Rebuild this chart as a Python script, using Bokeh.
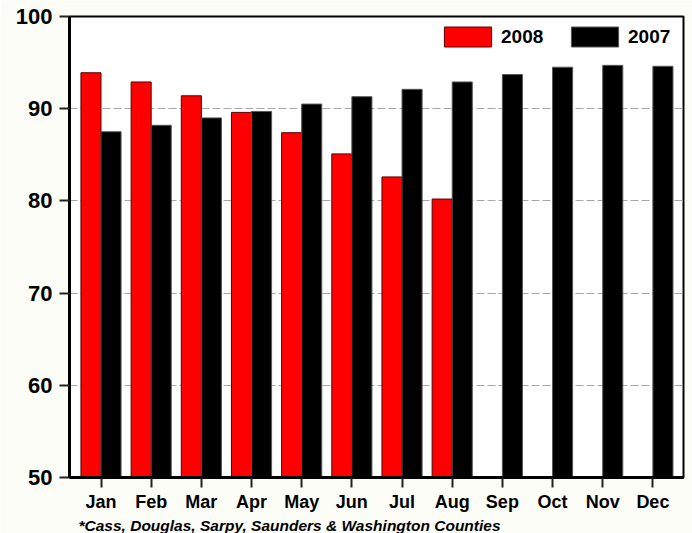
from bokeh.plotting import figure
from bokeh.models import (ColumnDataSource, Range1d, FixedTicker, Legend, LegendItem, Title)
from bokeh.transform import dodge
from bokeh.embed import file_html
from bokeh.resources import INLINE

months = ["Jan", "Feb", "Mar", "Apr", "May", "Jun", "Jul", "Aug", "Sep", "Oct", "Nov", "Dec"]
v2008 = [93.9, 92.9, 91.4, 89.6, 87.4, 85.1, 82.6, 80.2]
v2007 = [87.5, 88.2, 89.0, 89.7, 90.5, 91.3, 92.1, 92.9, 93.7, 94.5, 94.7, 94.6]
y_ticks = [50, 60, 70, 80, 90, 100]
footnote = "*Cass, Douglas, Sarpy, Saunders & Washington Counties"

FONT = "Liberation Sans"

src08 = ColumnDataSource(dict(x=list(range(len(v2008))), top=v2008))
src07 = ColumnDataSource(dict(x=list(range(len(v2007))), top=v2007))

p = figure(width=692, height=533, output_backend="svg", toolbar_location=None,
           x_range=Range1d(-0.628, 11.61), y_range=Range1d(50, 100),
           min_border_left=69, min_border_right=9, min_border_top=16, min_border_bottom=56)

p.background_fill_color = "white"
p.border_fill_color = "#FDFDF8"
p.outline_line_color = "black"
p.outline_line_width = 2

# grid
p.xgrid.grid_line_color = None
p.ygrid.ticker = FixedTicker(ticks=y_ticks)
p.ygrid.grid_line_color = "#A8A8A8"
p.ygrid.grid_line_dash = "8 3"
p.ygrid.grid_line_width = 1

r08 = p.vbar(x=dodge("x", -0.2), top="top", bottom=50, width=0.4, source=src08,
             fill_color="#FF0000", line_color="#5A0000", line_width=1)
r07 = p.vbar(x=dodge("x", 0.2), top="top", bottom=50, width=0.4, source=src07,
             fill_color="#000000", line_color="#555555", line_width=1)

# axes
p.xaxis.ticker = FixedTicker(ticks=list(range(len(months))))
p.xaxis.major_label_overrides = {i: m for i, m in enumerate(months)}
p.xaxis.major_tick_in = 0
p.xaxis.major_tick_out = 10
p.xaxis.minor_tick_line_color = None
p.xaxis.major_tick_line_color = "#222222"
p.xaxis.major_tick_line_width = 2
p.xaxis.axis_line_width = 3
p.xaxis.axis_line_color = "black"
p.xaxis.major_label_text_font = FONT
p.xaxis.major_label_text_font_style = "bold"
p.xaxis.major_label_text_font_size = "18px"
p.xaxis.major_label_text_color = "black"
p.xaxis.major_label_standoff = 4

p.yaxis.ticker = FixedTicker(ticks=y_ticks)
p.yaxis.major_tick_in = 0
p.yaxis.major_tick_out = 10
p.yaxis.minor_tick_line_color = None
p.yaxis.major_tick_line_color = "#222222"
p.yaxis.major_tick_line_width = 2
p.yaxis.axis_line_width = 3
p.yaxis.axis_line_color = "black"
p.yaxis.major_label_text_font = FONT
p.yaxis.major_label_text_font_style = "bold"
p.yaxis.major_label_text_font_size = "22px"
p.yaxis.major_label_text_color = "black"
p.yaxis.major_label_standoff = 7

legend = Legend(items=[LegendItem(label="2008", renderers=[r08]),
                       LegendItem(label="2007", renderers=[r07])],
                orientation="horizontal", location="top_right",
                glyph_width=59, glyph_height=25, label_standoff=4, spacing=17,
                label_width=47, padding=8, margin=0,
                label_text_font=FONT, label_text_font_style="bold",
                label_text_font_size="19px", label_text_color="black",
                border_line_alpha=0, background_fill_alpha=0)
p.add_layout(legend)

note = Title(text=footnote, align="left", offset=9, standoff=0,
             text_font=FONT, text_font_style="bold italic", text_font_size="15.5px",
             text_color="black")
p.add_layout(note, "below")

open("out.html", "w").write(file_html(p, INLINE))
